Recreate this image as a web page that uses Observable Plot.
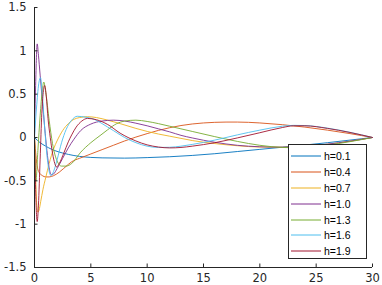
<!DOCTYPE html>
<html><head><meta charset="utf-8">
<script src="https://cdn.jsdelivr.net/npm/d3@7"></script>
<script src="https://cdn.jsdelivr.net/npm/@observablehq/plot@0.6"></script>
<style>
body{margin:0;background:#fff;}
#wrap{position:relative;width:382px;height:285px;}
#legend{position:absolute;left:288px;top:144px;width:79px;height:115px;border:1px solid #262626;background:#fff;box-sizing:border-box;padding-top:3.5px;font:10.5px "Liberation Sans",Arial,sans-serif;color:#000;}
.row{display:flex;align-items:center;height:15.8px;}
.row svg{margin-left:2px;margin-right:3px;display:block;}
</style></head><body><div id="wrap"></div>
<script>
const labels = ["h=0.1","h=0.4","h=0.7","h=1.0","h=1.3","h=1.6","h=1.9"];
const colors = ["#0072BD","#D95319","#EDB120","#7E2F8E","#77AC30","#4DBEEE","#A2142F"];
const xTicks = [0,5,10,15,20,25,30];
const yTicks = [-1.5,-1,-0.5,0,0.5,1,1.5];
const xDomain = [0,30];
const yDomain = [-1.5,1.5];

const h01x = [0,0.5,1,1.5,2,3,4,5,6,8,10,12,14,16,18,20,22,24,26,28,30];
const h01y = [0,-0.06,-0.1,-0.135,-0.16,-0.195,-0.218,-0.23,-0.235,-0.238,-0.232,-0.222,-0.207,-0.187,-0.162,-0.137,-0.112,-0.087,-0.06,-0.03,0];

const h04x = [0,0.2,0.4,0.7,1,1.3,1.7,2.2,3,3.3,4,5,6,7,8,9,10,11,12,13,14,15,16,17,18,19,20,22,24,26,28,30];
const h04y = [0,-0.3,-0.4,-0.44,-0.455,-0.455,-0.44,-0.4,-0.31,-0.28,-0.24,-0.19,-0.14,-0.09,-0.04,0.005,0.045,0.082,0.113,0.138,0.156,0.168,0.175,0.178,0.178,0.175,0.168,0.148,0.12,0.085,0.045,0];

const h07x = [0,0.1,0.2,0.3,0.4,0.55,0.75,1,1.3,1.7,2,2.5,3,3.5,4,4.7,5.5,6.5,7.6,9,10,11,12,13,14,16,18,20,22,24,26,28,30];
const h07y = [0,-0.45,-0.78,-0.86,-0.84,-0.74,-0.6,-0.46,-0.3,-0.13,-0.04,0.08,0.16,0.21,0.23,0.24,0.23,0.2,0.16,0.105,0.07,0.04,0.015,-0.01,-0.035,-0.07,-0.095,-0.11,-0.112,-0.1,-0.078,-0.043,0];

const h10x = [0,0.1,0.24,0.35,0.5,0.7,0.9,1.1,1.3,1.5,1.7,2,2.5,3,3.5,4.1,5,6,7,8,9,10,11,12,13,14,16,18,20,22,24,26,28,30];
const h10y = [0,0.6,1.08,0.95,0.72,0.42,0.12,-0.15,-0.35,-0.43,-0.42,-0.36,-0.24,-0.12,-0.02,0.08,0.155,0.19,0.2,0.19,0.165,0.135,0.1,0.065,0.025,-0.005,-0.055,-0.09,-0.107,-0.112,-0.1,-0.077,-0.042,0];

const h13x = [0,0.12,0.3,0.5,0.7,0.82,1,1.3,1.6,2,2.4,2.8,3.3,4.1,5,5.9,6.5,7.3,8,9,10,11,12,13,14,16,18,20,22,23,24,26,28,30];
const h13y = [0,-0.5,-0.15,0.25,0.55,0.64,0.52,0.2,-0.07,-0.27,-0.33,-0.33,-0.3,-0.17,-0.06,0.03,0.09,0.16,0.19,0.2,0.185,0.16,0.13,0.1,0.07,0.01,-0.045,-0.09,-0.115,-0.118,-0.112,-0.088,-0.048,0];

const h16x = [0,0.2,0.4,0.53,0.7,0.9,1.1,1.3,1.45,1.7,2,2.4,2.8,3.3,3.8,4.5,5.3,6,7,8,9,10,11,12,13,14,16,18,20,22,23,24,26,28,30];
const h16y = [0,0.38,0.64,0.69,0.48,0.12,-0.2,-0.39,-0.44,-0.39,-0.26,-0.06,0.09,0.2,0.245,0.235,0.21,0.16,0.08,0,-0.06,-0.1,-0.115,-0.113,-0.1,-0.08,-0.03,0.03,0.085,0.13,0.14,0.138,0.108,0.06,0];

const h19x = [0,0.1,0.24,0.35,0.5,0.65,0.9,1.05,1.2,1.4,1.6,1.8,1.95,2.2,2.6,3,3.3,3.7,4.2,4.7,5.5,6.5,7.6,9,10,11,12,13,14,16,18,20,22,23,24,26,28,30];
const h19y = [0,-0.6,-0.97,-0.78,-0.25,0.28,0.6,0.47,0.22,0,-0.18,-0.3,-0.34,-0.3,-0.18,-0.05,0.03,0.12,0.19,0.22,0.205,0.15,0.05,-0.04,-0.085,-0.11,-0.12,-0.115,-0.1,-0.06,-0.005,0.055,0.115,0.135,0.135,0.105,0.058,0];

const seriesX = [h01x,h04x,h07x,h10x,h13x,h16x,h19x];
const seriesY = [h01y,h04y,h07y,h10y,h13y,h16y,h19y];

const axisColor = "#262626";
const lineMarks = seriesX.map((xs, i) =>
  Plot.line(xs.map((x, j) => ({x, y: seriesY[i][j]})), {x: "x", y: "y", stroke: colors[i], strokeWidth: 0.9, curve: "monotone-x"})
);

const chart = Plot.plot({
  width: 382, height: 285,
  marginLeft: 34, marginRight: 10, marginTop: 7, marginBottom: 18,
  x: {domain: xDomain},
  y: {domain: yDomain},
  style: {fontFamily: "'DejaVu Sans', sans-serif", fontSize: "11.5px", color: axisColor, background: "#fff"},
  marks: [
    ...lineMarks,
    Plot.ruleX([xDomain[0]], {stroke: axisColor}),
    Plot.ruleY([yDomain[0]], {stroke: axisColor}),
    Plot.axisX(xTicks, {tickSize: 3.5, dy: -3.5, tickFormat: () => "", label: null, stroke: axisColor}),
    Plot.axisY(yTicks, {tickSize: 3.5, dx: 3.5, tickFormat: () => "", label: null, stroke: axisColor}),
    Plot.axisX(xTicks, {tickSize: 0, tickPadding: 6, label: null, tickFormat: d => String(d), fill: axisColor}),
    Plot.axisY(yTicks, {tickSize: 0, tickPadding: 8, label: null, tickFormat: d => String(d), fill: axisColor})
  ]
});
const wrap = document.getElementById("wrap");
wrap.appendChild(chart);

const legend = document.createElement("div");
legend.id = "legend";
labels.forEach((lab, i) => {
  const row = document.createElement("div");
  row.className = "row";
  row.innerHTML = `<svg width="30" height="4"><line x1="0" x2="30" y1="2" y2="2" stroke="${colors[i]}" stroke-width="1"/></svg><span>${lab}</span>`;
  legend.appendChild(row);
});
wrap.appendChild(legend);
</script></body></html>
